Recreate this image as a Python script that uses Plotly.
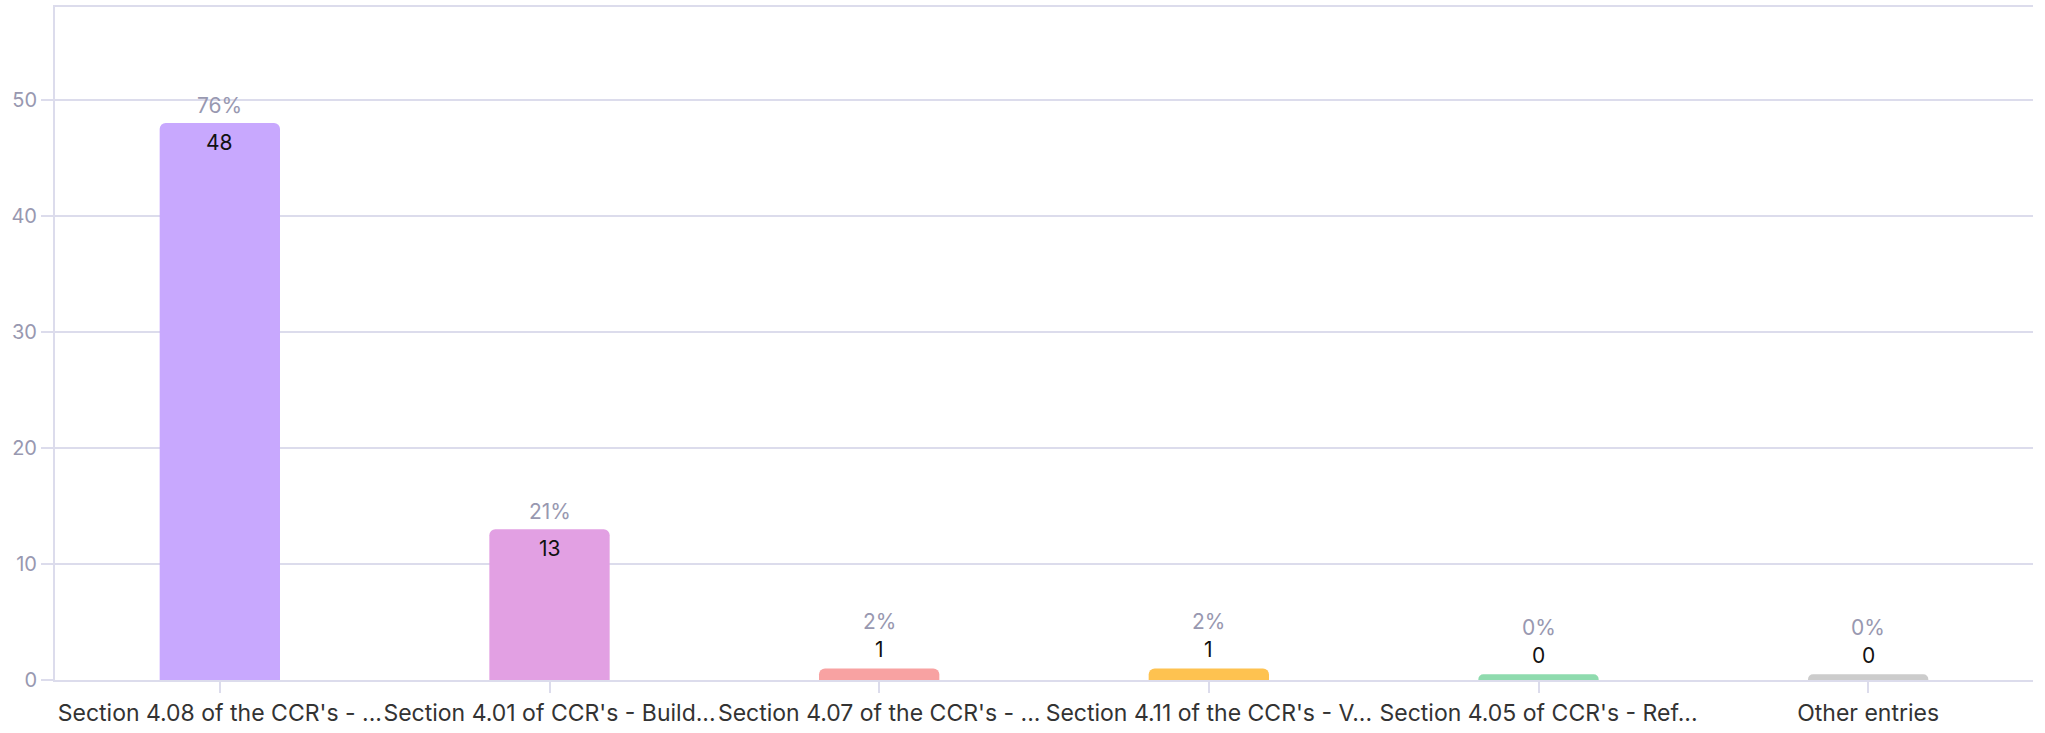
import plotly.graph_objects as go

categories = [
    "Section 4.08 of the CCR's - ...",
    "Section 4.01 of CCR's - Build...",
    "Section 4.07 of the CCR's - ...",
    "Section 4.11 of the CCR's - V...",
    "Section 4.05 of CCR's - Ref...",
    "Other entries",
]
counts = [48, 13, 1, 1, 0, 0]
colors = ["#c8a8fe", "#e2a0e3", "#f8a2a2", "#fec250", "#8fdbae", "#cccccc"]

total = sum(counts)
percents = [round(100 * c / total) for c in counts]
# zero-count bars are still drawn as a thin stub, like the reference
display = [c if c > 0 else 0.5 for c in counts]

FONT = "Inter, Roboto, sans-serif"

fig = go.Figure()
fig.add_trace(go.Bar(
    x=categories, y=display, marker=dict(color=colors, line=dict(width=0)),
    width=0.365, hoverinfo="skip", showlegend=False,
))

annotations = []
for cat, c, d, p in zip(categories, counts, display, percents):
    inside = c >= 0.1 * max(counts)
    if inside:
        cnt_shift, pct_shift = -19, 18
    else:
        cnt_shift, pct_shift = 19, 47
    annotations.append(dict(x=cat, y=d, text=str(c), showarrow=False, yshift=cnt_shift,
                            yanchor="middle", font=dict(family=FONT, size=21, color="#111111")))
    annotations.append(dict(x=cat, y=d, text=f"{p}%", showarrow=False, yshift=pct_shift,
                            yanchor="middle", font=dict(family=FONT, size=21, color="#9898b0")))

fig.update_layout(
    width=2045, height=733,
    margin=dict(l=55, r=12, t=7, b=53),
    paper_bgcolor="white", plot_bgcolor="white",
    barcornerradius=6,
    annotations=annotations,
    xaxis=dict(
        showline=True, linecolor="#dcdcec", linewidth=2, mirror=True,
        ticks="outside", ticklen=11, tickcolor="#dcdcec", tickwidth=1.5,
        tickfont=dict(family=FONT, size=23, color="#333333"), tickangle=0,
        showgrid=False, automargin=False,
    ),
    yaxis=dict(
        range=[0, 58], tickvals=[0, 10, 20, 30, 40, 50],
        showline=True, linecolor="#dcdcec", linewidth=2,
        ticks="outside", ticklen=12, tickcolor="#dcdcec", tickwidth=1.5,
        showgrid=True, gridcolor="#dcdcec", gridwidth=1.5,
        zeroline=False, automargin=False,
        tickfont=dict(family=FONT, size=20, color="#9898b0"),
    ),
)

fig.write_html("out.html", config={"displayModeBar": False},
               post_script="document.body.style.margin='0';document.body.style.overflow='hidden';")
